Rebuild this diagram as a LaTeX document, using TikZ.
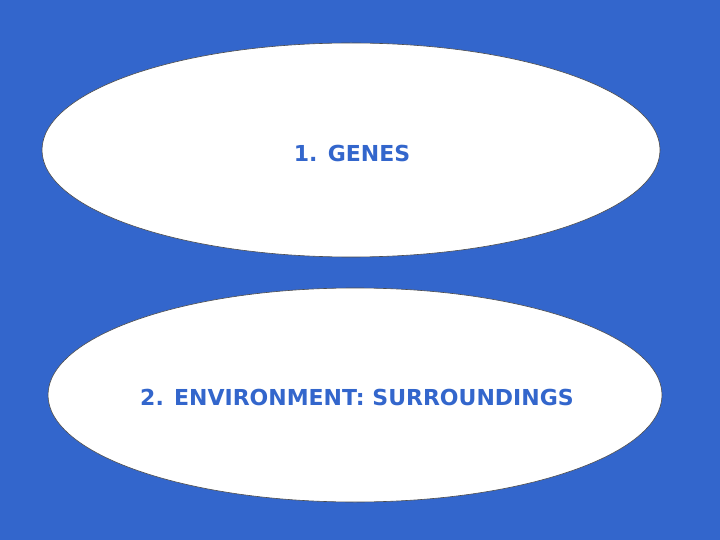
\documentclass[tikz,border=0pt]{standalone}
\usepackage{fontspec}
\setmainfont{DejaVu Sans}
\definecolor{bg}{HTML}{3366CC}
\tikzset{oval/.style={draw=black!70,line width=0.6pt,fill=white},lbl/.style={text=bg,font=\bfseries\fontsize{22}{26}\selectfont}}
\begin{document}
\begin{tikzpicture}[x=1pt,y=-1pt]
\fill[bg] (0,0) rectangle (720,540);
\useasboundingbox (0,0) rectangle (720,540);
\draw[oval] (351,150) ellipse [x radius=309,y radius=107];
\draw[oval] (355,395) ellipse [x radius=307,y radius=107];
\node[lbl] (a) at (352,153) {1. GENES};
\node[lbl] (b) at (357,397) {2. ENVIRONMENT: SURROUNDINGS};
\end{tikzpicture}
\end{document}
